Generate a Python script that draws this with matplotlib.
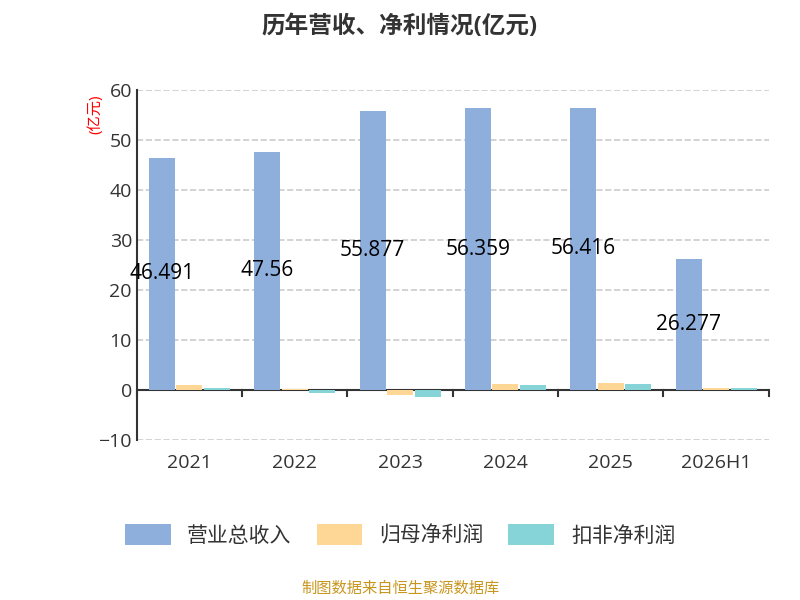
import matplotlib
matplotlib.use('Agg')
import matplotlib.pyplot as plt
import numpy as np
plt.rcParams['font.family'] = ['Open Sans', 'Noto Sans CJK SC', 'DejaVu Sans']

years = ['2021', '2022', '2023', '2024', '2025', '2026H1']
revenue = [46.491, 47.56, 55.877, 56.359, 56.416, 26.277]
net_profit = [1.0, 0.1, -1.1, 1.2, 1.4, 0.4]
deducted = [0.4, -0.6, -1.4, 1.0, 1.2, 0.3]
labels = ['营业总收入', '归母净利润', '扣非净利润']
colors = ['#8eaedb', '#fed797', '#86d4d8']

fig = plt.figure(figsize=(8, 6), dpi=100)
ax = fig.add_axes([0.171, 0.267, 0.79, 0.583])
x = np.arange(len(years))
w = 0.26
for i, (vals, c, l) in enumerate(zip([revenue, net_profit, deducted], colors, labels)):
    ax.bar(x + (i - 1) * w, vals, w * 0.95, color=c, label=l, zorder=3)
for xi, v in zip(x, revenue):
    ax.text(xi - w, v / 2, '47.56' if v == 47.56 else f'{v:g}', ha='center', va='center', fontsize=15, zorder=4)
ax.set_xlim(-0.5, len(years) - 0.5)
ax.set_ylim(-10, 60)
ax.set_yticks(range(-10, 61, 10))
ax.tick_params(axis='y', length=0, labelsize=14, colors='#333333')
ax.tick_params(axis='x', length=0, labelsize=14, colors='#333333', pad=10)
ax.set_xticks(x)
ax.set_xticklabels(years)
ax.grid(axis='y', linestyle='--', color='#cccccc', linewidth=1.2, zorder=0)
for s in ['top', 'right', 'bottom']:
    ax.spines[s].set_visible(False)
ax.spines['left'].set_color('#333333')
ax.spines['left'].set_linewidth(1.5)
ax.axhline(0, color='#333333', linewidth=1.5, zorder=2)
for b in np.arange(-0.5, len(years), 1):
    ax.plot([b, b], [0, -1.3], color='#333333', linewidth=1.5, clip_on=False, zorder=5)
ax.text(-0.065, 0.93, '(亿元)', transform=ax.transAxes, rotation=90, color='red', fontsize=11, ha='center', va='center')
fig.text(0.5, 0.955, '历年营收、净利情况(亿元)', ha='center', va='center', fontsize=17, fontweight='bold', color='#333333')
leg = fig.legend(loc='center', bbox_to_anchor=(0.5, 0.108), ncol=3, frameon=False, fontsize=15, handlelength=2.2, handleheight=1.2, columnspacing=1.2)
for t in leg.get_texts():
    t.set_color('#333333')
fig.text(0.5, 0.018, '制图数据来自恒生聚源数据库', ha='center', va='center', fontsize=11, color='#c8961e')
fig.savefig('out.png')
